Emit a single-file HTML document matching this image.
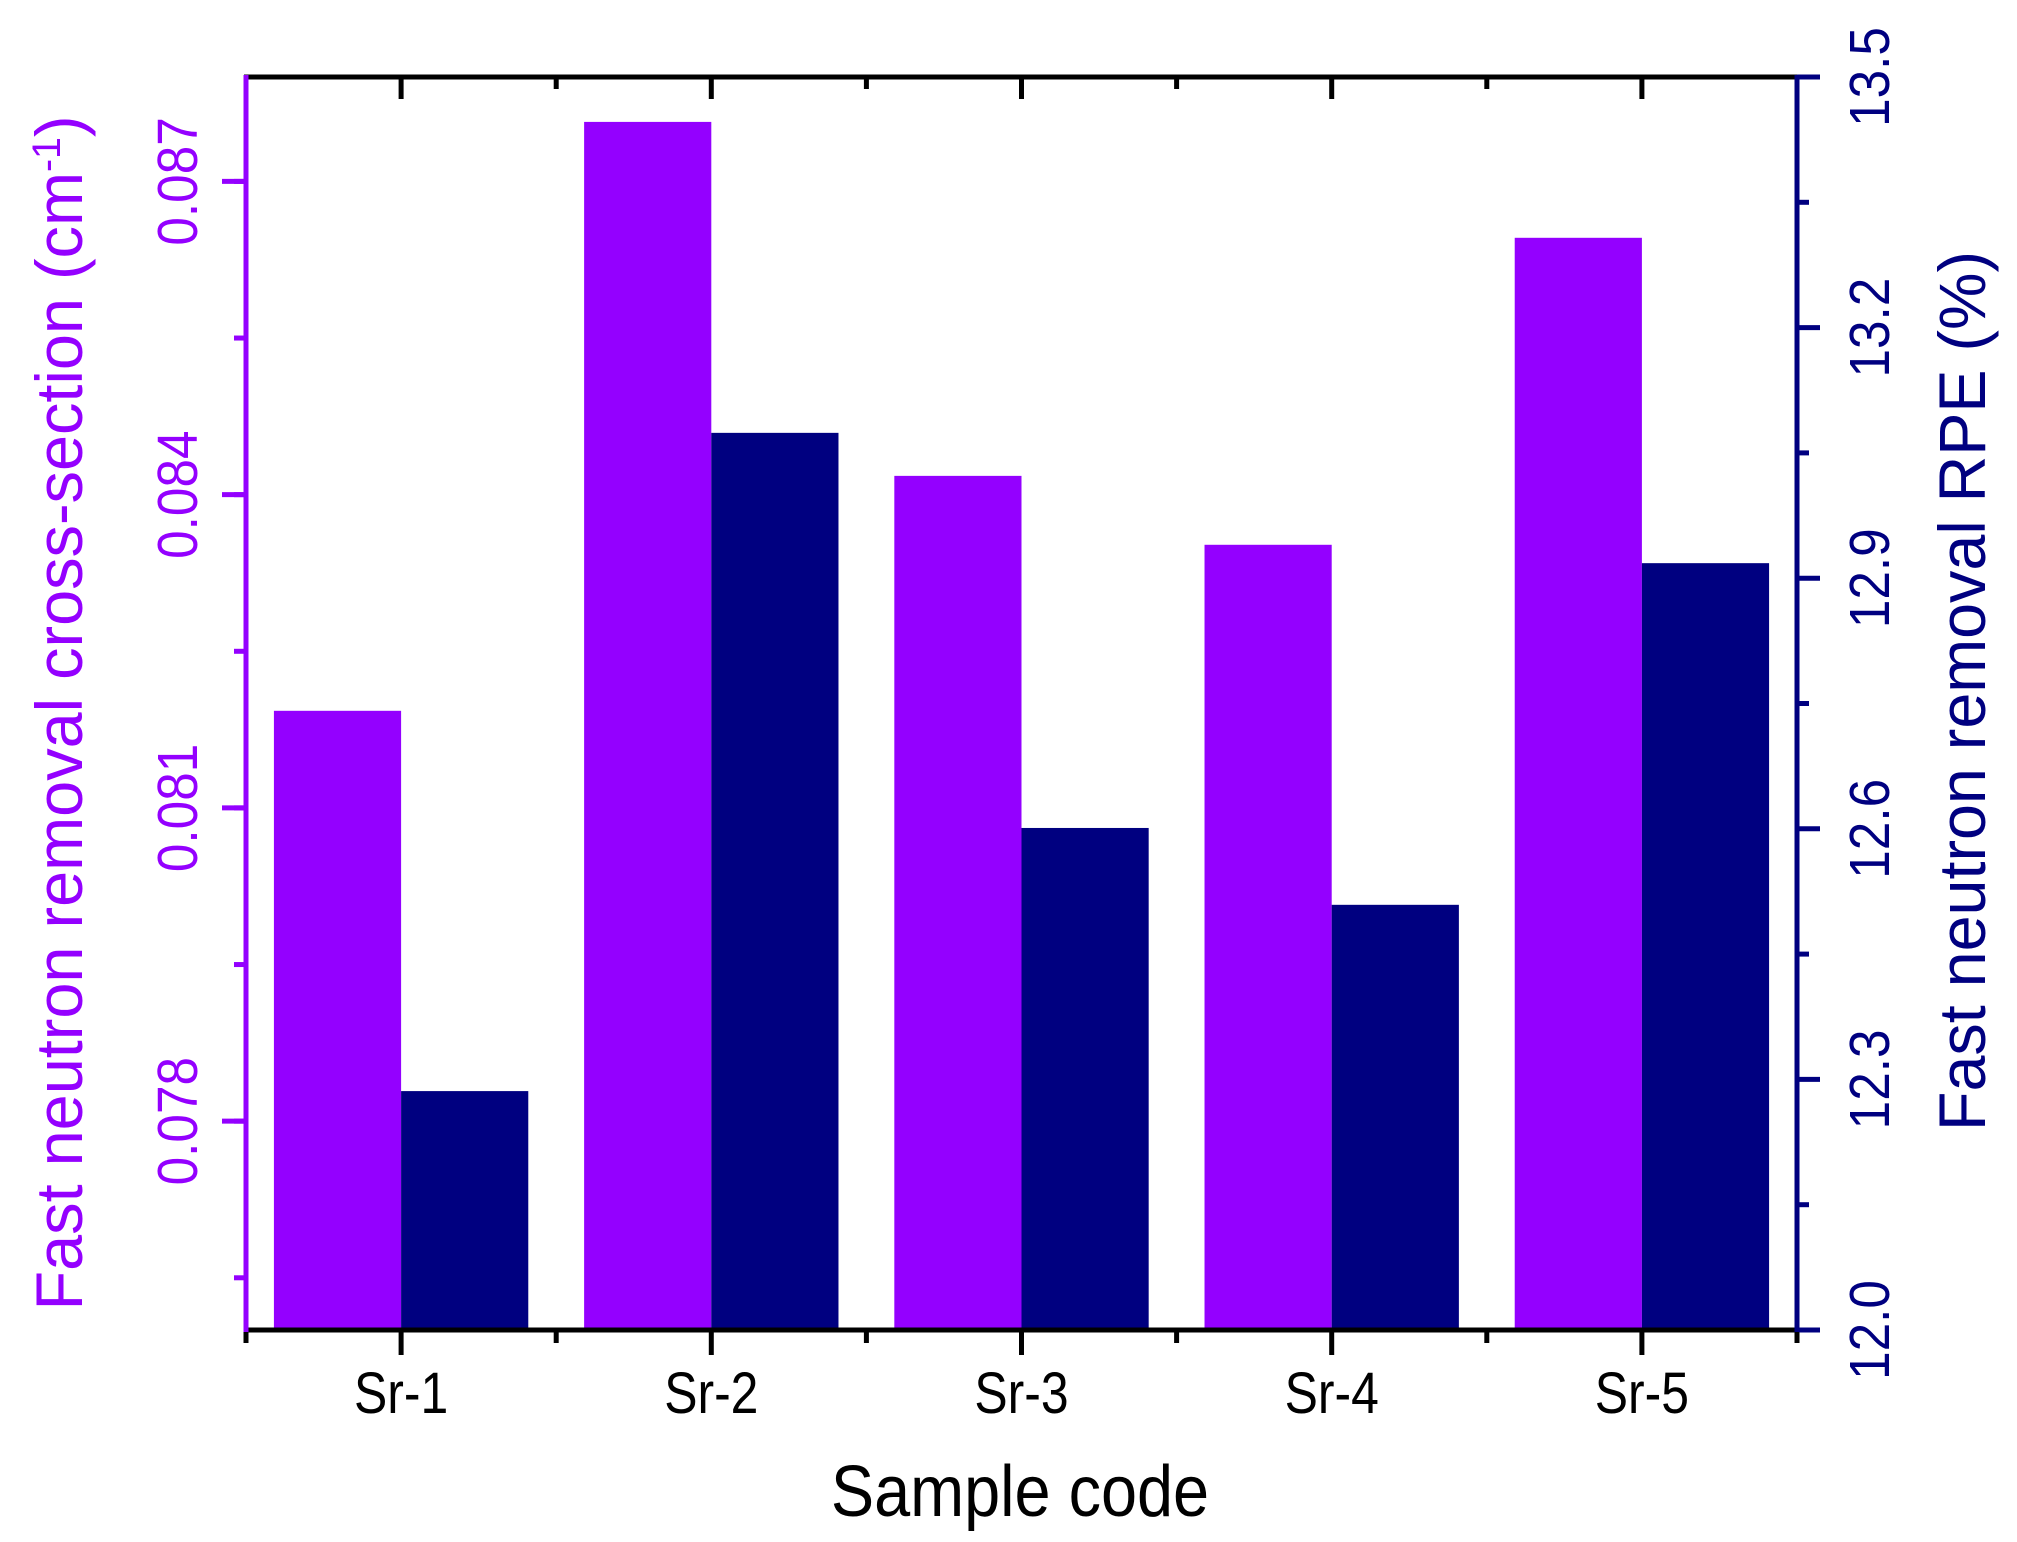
<!DOCTYPE html>
<html><head><meta charset="utf-8"><style>
html,body{margin:0;padding:0;background:#fff}
svg{display:block;font-family:"Liberation Sans",Arial,sans-serif}
</style></head><body>
<svg id="chart" width="2017" height="1542" viewBox="0 0 2017 1542"></svg>
<script>
const categories = ["Sr-1","Sr-2","Sr-3","Sr-4","Sr-5"];
const crossSection = [0.08193,0.08757,0.08418,0.08352,0.08646];
const rpe = [12.286,13.074,12.601,12.509,12.918];
const leftTicks = [0.078,0.081,0.084,0.087];
const leftTickLabels = ["0.078","0.081","0.084","0.087"];
const rightTicks = [12.0,12.3,12.6,12.9,13.2,13.5];
const rightTickLabels = ["12.0","12.3","12.6","12.9","13.2","13.5"];

const NS="http://www.w3.org/2000/svg";
const svg=document.getElementById('chart');
const X0=246,X1=1797,Y0=1330,Y1=77;
const L0=0.076,L1=0.088,R0=12.0,R1=13.5;
const PUR="#9400ff",NAV="#000080";
const band=(X1-X0)/categories.length;
const xc=i=>X0+band*(i+0.5);
const yL=v=>Y0-(v-L0)/(L1-L0)*(Y0-Y1);
const yR=v=>Y0-(v-R0)/(R1-R0)*(Y0-Y1);
function mk(t,a,txt){const e=document.createElementNS(NS,t);for(const k in a)e.setAttribute(k,a[k]);if(txt!==undefined)e.textContent=txt;svg.appendChild(e);return e;}
const bw=band*0.41;
categories.forEach((c,i)=>{
  let r=mk('rect',{x:xc(i)-bw,y:yL(crossSection[i]),width:bw,height:Y0-yL(crossSection[i]),fill:PUR});
  
  
  let r2=mk('rect',{x:xc(i),y:yR(rpe[i]),width:bw,height:Y0-yR(rpe[i]),fill:NAV});
  
  
  let t=mk('line',{x1:xc(i),x2:xc(i),y1:Y0,y2:Y0+25,stroke:'#000','stroke-width':5});
  
  
  let tt=mk('line',{x1:xc(i),x2:xc(i),y1:Y1,y2:Y1+22,stroke:'#000','stroke-width':5});
  
  
  let lb=mk('text',{x:0,y:0,'text-anchor':'middle','font-size':58,fill:'#000',transform:`translate(${xc(i)},1413) scale(0.86,1)`},c);
  
  
});
for(let i=0;i<=categories.length;i++){
  const x=X0+band*i;
  let m=mk('line',{x1:x,x2:x,y1:Y0,y2:Y0+13,stroke:'#000','stroke-width':5});
  
  
  let m2=mk('line',{x1:x,x2:x,y1:Y1,y2:Y1+12,stroke:'#000','stroke-width':5});
  
  
}
for(let v=L0+0.0005;v<L1;v+=0.0015){
  const y=yL(v);
  let m=mk('line',{x1:X0,x2:X0-12,y1:y,y2:y,stroke:PUR,'stroke-width':5});
  
  
}
leftTicks.forEach((v,i)=>{
  const y=yL(v);
  let t=mk('line',{x1:X0,x2:X0-24,y1:y,y2:y,stroke:PUR,'stroke-width':5});
  
  
  let lb=mk('text',{x:0,y:0,'text-anchor':'middle','font-size':57,fill:PUR,transform:`translate(197,${y}) rotate(-90) scale(0.9,1)`},leftTickLabels[i]);
  
  
});
for(let k=0;k<rightTicks.length-1;k++){
  const y=yR((rightTicks[k]+rightTicks[k+1])/2);
  let m=mk('line',{x1:X1,x2:X1+12,y1:y,y2:y,stroke:NAV,'stroke-width':5});
  
  
}
rightTicks.forEach((v,i)=>{
  const y=yR(v);
  let t=mk('line',{x1:X1,x2:X1+23,y1:y,y2:y,stroke:NAV,'stroke-width':5});
  
  
  let lb=mk('text',{x:0,y:0,'text-anchor':'middle','font-size':57,fill:NAV,transform:`translate(1889,${y}) rotate(-90) scale(0.9,1)`},rightTickLabels[i]);
  
  
});
let a1=mk('line',{x1:X0-2,x2:X1,y1:Y1,y2:Y1,stroke:'#000','stroke-width':5});

let a2=mk('line',{x1:X0-2,x2:X1+2,y1:Y0,y2:Y0,stroke:'#000','stroke-width':5});

let a3=mk('line',{x1:X0,x2:X0,y1:Y1-2,y2:Y0+2,stroke:PUR,'stroke-width':5});

let a4=mk('line',{x1:X1,x2:X1,y1:Y1-2,y2:Y0+2,stroke:NAV,'stroke-width':5});

</script>
<script>
(function(){
const NS="http://www.w3.org/2000/svg";const svg=document.getElementById('chart');
const xt=document.createElementNS(NS,'text');
xt.setAttribute('transform','translate(1020,1516) scale(0.9,1)');xt.setAttribute('text-anchor','middle');xt.setAttribute('font-size',72);
xt.textContent='Sample code';


svg.appendChild(xt);
const lt=document.createElementNS(NS,'text');
lt.setAttribute('transform','translate(82,713) rotate(-90)');lt.setAttribute('text-anchor','middle');lt.setAttribute('font-size',66);lt.setAttribute('fill','#9400ff');
lt.setAttribute('textLength',1195);lt.setAttribute('lengthAdjust','spacingAndGlyphs');
lt.innerHTML='Fast neutron removal cross-section (cm<tspan baseline-shift="super" font-size="40">-1</tspan>)';


svg.appendChild(lt);
const rt=document.createElementNS(NS,'text');
rt.setAttribute('transform','translate(1985,691) rotate(-90)');rt.setAttribute('text-anchor','middle');rt.setAttribute('font-size',66);rt.setAttribute('fill','#000080');
rt.setAttribute('textLength',880);rt.setAttribute('lengthAdjust','spacingAndGlyphs');
rt.textContent='Fast neutron removal RPE (%)';


svg.appendChild(rt);
})();
</script>
</body></html>
